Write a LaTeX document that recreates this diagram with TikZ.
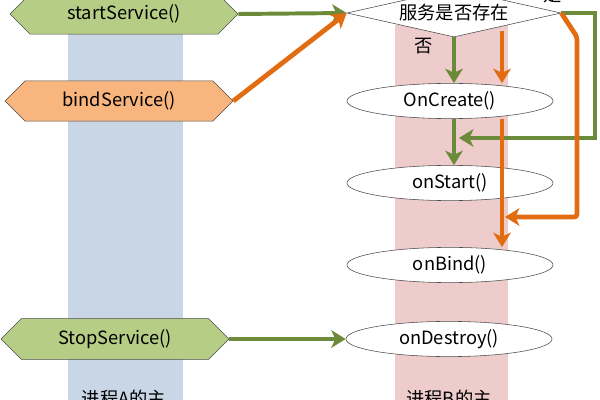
\documentclass[tikz,border=0pt]{standalone}
\usepackage{fontspec}
\setmainfont{Noto Sans CJK SC}
\definecolor{LaneBlue}  {RGB}{201,214,230}
\definecolor{LanePink}  {RGB}{238,204,204}
\definecolor{CallGreen} {RGB}{182,205,133}
\definecolor{CallOrange}{RGB}{248,181,125}
\definecolor{FlowGreen} {RGB}{108,139,58}
\definecolor{FlowOrange}{RGB}{226,108,18}
\usetikzlibrary{
  shapes.geometric,
  shapes.misc,
  arrows.meta,
  positioning
}

\begin{document}
\begin{tikzpicture}[
  x=0.025cm, y=-0.025cm,
  font=\fontsize{13}{15}\selectfont,
  call/.style={
    chamfered rectangle, draw=black!70,
    chamfered rectangle xsep=1.0cm,
    chamfered rectangle ysep=0.27cm,
    minimum width=5.7cm, minimum height=0.88cm,
    inner sep=0pt
  },
  cb/.style={
    ellipse, draw=black!70, fill=white,
    minimum width=5.15cm, minimum height=0.88cm,
    inner sep=0pt
  },
  garrow/.style={
    -{Stealth[length=3.6mm,width=4.4mm,inset=1mm]},
    line width=2.8pt, FlowGreen},
  oarrow/.style={
    -{Stealth[length=3.6mm,width=4.4mm,inset=1mm]},
    line width=3.4pt, FlowOrange, rounded corners=2pt}
]
\clip (0,0) rectangle (600,400);
\useasboundingbox (0,0) rectangle (600,400);

% process lanes
\fill[LaneBlue] (68,25) rectangle (183,400);
\fill[LanePink] (395,25) rectangle (508,400);

% client side calls
\node[call, fill=CallGreen]  (start) at (124,14)  {startService()};
\node[call, fill=CallOrange] (bind)  at (119,101) {bindService()};
\node[call, fill=CallGreen]  (stop)  at (115,339) {StopService()};

% service side
\node[diamond, draw=black!70, fill=white, aspect=4.45,
  minimum width=5.35cm, minimum height=1.2cm, inner sep=0pt]
  (chk) at (454,13) {服务是否存在};
\node (yes) at (553,-5) {是};
\node (no)  at (424,46) {否};

\node[cb] (create)  at (450,101) {OnCreate()};
\node[cb] (onstart) at (450,183) {onStart()};
\node[cb] (onbind)  at (450,265) {onBind()};
\node[cb] (destroy) at (449,339) {onDestroy()};

\node[anchor=north] (laneA) at (124,385) {进程A的主};
\node[anchor=north] (laneB) at (449,385) {进程B的主};

\coordinate (gturn) at (595,138);
\coordinate (gend)  at (459,138);
\coordinate (otop)  at (502,31);
\coordinate (obend) at (577,37);
\coordinate (oturn) at (577,217);
\coordinate (oend)  at (505,217);

% startService path
\draw[garrow] (start.east) -- (chk.west);
\draw[garrow] (chk.south) -- (chk.south |- create.north);
\draw[garrow] (chk.south |- create.south) -- (chk.south |- onstart.north);
\draw[garrow] (chk.east) -| (gturn) -- (gend);

% bindService path
\draw[oarrow] (bind.east) -- (chk.west);
\draw[oarrow] (chk.east) -- (obend) -- (oturn) -- (oend);
\draw[oarrow] (otop) -- (otop |- create.north);
\draw[oarrow] (otop |- create.south) -- (otop |- onbind.north);

% stopService
\draw[garrow] (stop.east) -- (destroy.west);
\end{tikzpicture}
\end{document}
